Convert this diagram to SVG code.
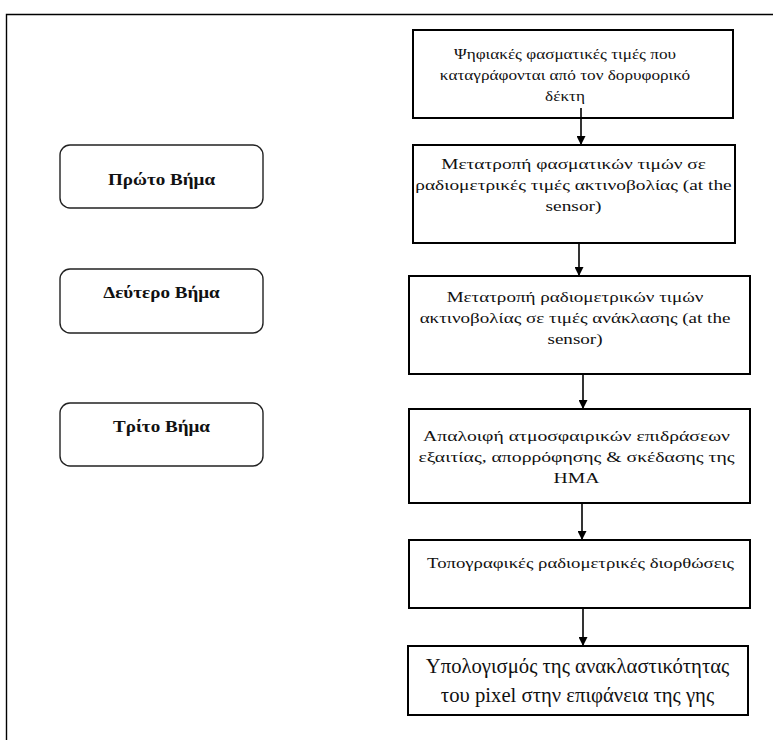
<svg xmlns="http://www.w3.org/2000/svg" width="773" height="740" viewBox="0 0 773 740">
<defs>
<style>
.box{fill:#fff;stroke:#000;stroke-width:2}
.step{fill:#fff;stroke:#222;stroke-width:1.4}
text{font-family:'Liberation Serif','DejaVu Serif',serif;fill:#111;text-anchor:middle}
.t{font-size:15.5px}
.tb{font-size:17.5px;font-weight:bold}
.tl{font-size:20.5px}
.c{stroke:#000;stroke-width:1.6;fill:none}
</style>
<marker id="ah" viewBox="0 0 10 10" refX="10" refY="5" markerWidth="9" markerHeight="9" markerUnits="userSpaceOnUse" orient="auto">
<path d="M0,0 L10,5 L0,10 z" fill="#000"/>
</marker>
</defs>
<rect width="773" height="740" fill="#fff"/>
<path d="M6.5,740 V14.5 H773" fill="none" stroke="#000" stroke-width="1.4"/>

<g id="n1">
<rect class="box" x="413" y="30" width="320" height="88"/>
<g transform="translate(565 0) scale(1.11 1)">
<text class="t" x="0" y="59">Ψηφιακές φασματικές τιμές που</text>
<text class="t" x="0" y="80">καταγράφονται από τον δορυφορικό</text>
<text class="t" x="0" y="101">δέκτη</text>
</g>
</g>
<g id="n2">
<rect class="box" x="413" y="145" width="322" height="98"/>
<g transform="translate(573.5 0) scale(1.25 1)">
<text class="t" x="0" y="169">Μετατροπή φασματικών τιμών σε</text>
<text class="t" x="0" y="190">ραδιομετρικές τιμές ακτινοβολίας (at the</text>
<text class="t" x="0" y="211">sensor)</text>
</g>
</g>
<g id="n3">
<rect class="box" x="409" y="276" width="341" height="98"/>
<g transform="translate(575 0) scale(1.23 1)">
<text class="t" x="0" y="302">Μετατροπή ραδιομετρικών τιμών</text>
<text class="t" x="0" y="323">ακτινοβολίας σε τιμές ανάκλασης (at the</text>
<text class="t" x="0" y="344">sensor)</text>
</g>
</g>
<g id="n4">
<rect class="box" x="409" y="409" width="341" height="94"/>
<g transform="translate(576.5 0) scale(1.27 1)">
<text class="t" x="0" y="441">Απαλοιφή ατμοσφαιρικών επιδράσεων</text>
<text class="t" x="0" y="462">εξαιτίας, απορρόφησης &amp; σκέδασης της</text>
<text class="t" x="0" y="483">ΗΜΑ</text>
</g>
</g>
<g id="n5">
<rect class="box" x="409" y="540" width="341" height="68"/>
<g transform="translate(580.5 0) scale(1.21 1)">
<text class="t" x="0" y="568">Τοπογραφικές ραδιομετρικές διορθώσεις</text>
</g>
</g>
<g id="n6">
<rect class="box" x="408" y="646" width="340" height="69"/>
<g transform="translate(577.5 0) scale(1.01 1)">
<text class="tl" x="0" y="673">Υπολογισμός της ανακλαστικότητας</text>
<text class="tl" x="0" y="702">του pixel στην επιφάνεια της γης</text>
</g>
</g>

<g id="s1">
<rect class="step" x="60" y="145" width="203" height="63" rx="10"/>
<text class="tb" x="161.5" y="185" transform="translate(161.5 0) scale(1.09 1) translate(-161.5 0)">Πρώτο Βήμα</text>
</g>
<g id="s2">
<rect class="step" x="60" y="269" width="203" height="64" rx="10"/>
<text class="tb" x="161.5" y="298" transform="translate(161.5 0) scale(1.09 1) translate(-161.5 0)">Δεύτερο Βήμα</text>
</g>
<g id="s3">
<rect class="step" x="60" y="403" width="203" height="63" rx="10"/>
<text class="tb" x="161.5" y="432" transform="translate(161.5 0) scale(1.09 1) translate(-161.5 0)">Τρίτο Βήμα</text>
</g>

<g id="connectors">
<line class="c" x1="581" y1="108" x2="581" y2="145" marker-end="url(#ah)"/>
<line class="c" x1="579" y1="243" x2="579" y2="276" marker-end="url(#ah)"/>
<line class="c" x1="583" y1="374" x2="583" y2="409" marker-end="url(#ah)"/>
<line class="c" x1="582" y1="503" x2="582" y2="540" marker-end="url(#ah)"/>
<line class="c" x1="583" y1="608" x2="583" y2="646" marker-end="url(#ah)"/>
</g>
</svg>
